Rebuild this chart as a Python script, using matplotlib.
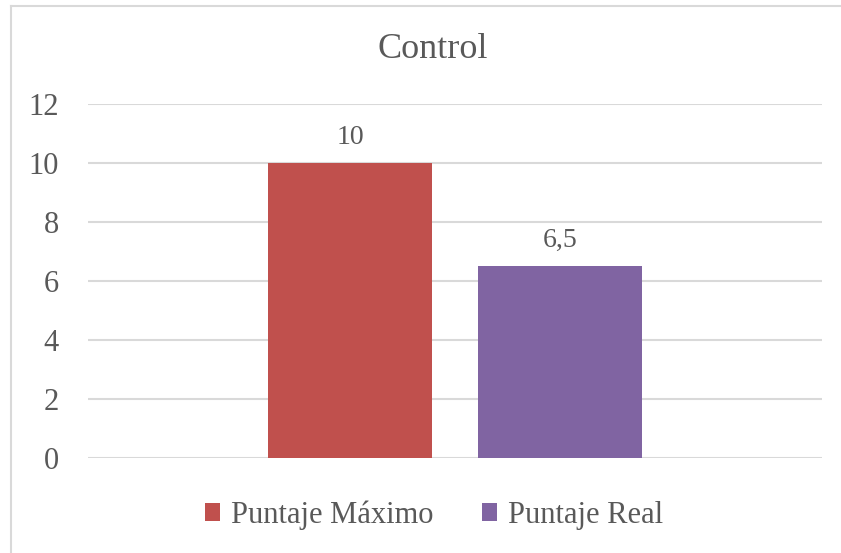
import matplotlib.pyplot as plt
from matplotlib.lines import Line2D

TITLE = "Control"
SERIES = ["Puntaje Máximo", "Puntaje Real"]
VALUES = [10, 6.5]
LABELS = ["10", "6,5"]
COLORS = ["#C0504D", "#8064A2"]
YTICKS = [0, 2, 4, 6, 8, 10, 12]

TEXT = "#595959"
GRID = "#D9D9D9"

plt.rcParams["font.family"] = ["Liberation Serif", "DejaVu Serif"]

fig = plt.figure(figsize=(8.41, 5.53), dpi=100)
# outer chart frame: only the top and left edges are visible
bx, by = 10.5 / 841, 1 - 5.5 / 553
fig.lines.append(Line2D([bx, bx], [0, by], transform=fig.transFigure, color=GRID, linewidth=1.5))
fig.lines.append(Line2D([bx, 1], [by, by], transform=fig.transFigure, color=GRID, linewidth=1.5))

ax = fig.add_axes([88 / 841, 1 - 458 / 553, (822 - 88) / 841, (458 - 104) / 553])

width = 0.224
offsets = [-0.143, 0.143]
for off, val, lab, col, name in zip(offsets, VALUES, LABELS, COLORS, SERIES):
    ax.bar(off, val, width=width, color=col, label=name, zorder=3)
    ax.text(off, val + 0.45, lab, ha="center", va="bottom", fontsize=20, color=TEXT)

ax.set_xlim(-0.5, 0.5)
ax.set_ylim(0, 12)
ax.set_yticks(YTICKS)
ax.set_yticklabels([str(t) for t in YTICKS], fontsize=22, color=TEXT)
ax.set_xticks([])
ax.tick_params(axis="y", length=0, pad=21)
ax.grid(axis="y", color=GRID, linewidth=1.5, zorder=0)
for s in ax.spines.values():
    s.set_visible(False)

fig.text(433 / 841, 1 - 50 / 553, TITLE, ha="center", va="center", fontsize=26, color=TEXT)

fig.legend(loc="center", bbox_to_anchor=(434 / 841, 1 - 515 / 553), ncol=2,
           frameon=False, fontsize=22, handlelength=0.5, handleheight=0.5,
           handletextpad=0.35, columnspacing=1.6, labelcolor=TEXT)

fig.savefig("out.png", dpi=100)
